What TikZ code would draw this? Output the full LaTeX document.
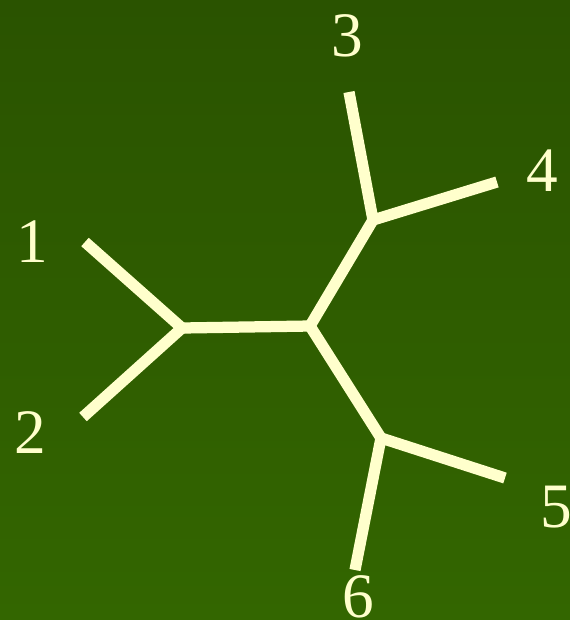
\documentclass[tikz,border=0pt]{standalone}
\usepackage{fontspec}
\setmainfont{Liberation Serif}
\usepackage{tikz}
\usetikzlibrary{positioning,calc}

\definecolor{bgtop}{HTML}{2A5300}
\definecolor{bgbot}{HTML}{336600}
\definecolor{edgecol}{HTML}{FFFFCC}

\tikzset{
 treeedge/.style={line width=3.2pt,color=edgecol,line cap=butt,line join=miter},
 leaflabel/.style={font=\fontsize{18}{21}\selectfont,text=edgecol,inner sep=0pt}
}

\begin{document}
\begin{tikzpicture}[x=0.01cm,y=-0.01cm]
\shade[top color=bgtop,bottom color=bgbot] (0,0) rectangle (570,620);
\useasboundingbox (0,0) rectangle (570,620);
% internal vertices
\coordinate (a) at (182,328);
\coordinate (b) at (310,326);
\coordinate (c) at (373,220);
\coordinate (d) at (381,438);
% leaves
\coordinate (l1) at (85,242);
\coordinate (l2) at (83,417);
\coordinate (l3) at (349,92);
\coordinate (l4) at (497,182);
\coordinate (l5) at (505,478);
\coordinate (l6) at (355,570);
\draw[treeedge] (l1)--(a)--(l2);
\draw[treeedge] (a)--(b);
\draw[treeedge] (b)--(c);
\draw[treeedge] (b)--(d);
\draw[treeedge] (l3)--(c)--(l4);
\draw[treeedge] (l6)--(d)--(l5);
\foreach \i/\x/\y in {1/32/242,2/30/433,3/347/36,4/542/171,5/556/507,6/358/597} {
 \node[leaflabel] (n\i) at (\x,\y) {\i};
}
\end{tikzpicture}
\end{document}
